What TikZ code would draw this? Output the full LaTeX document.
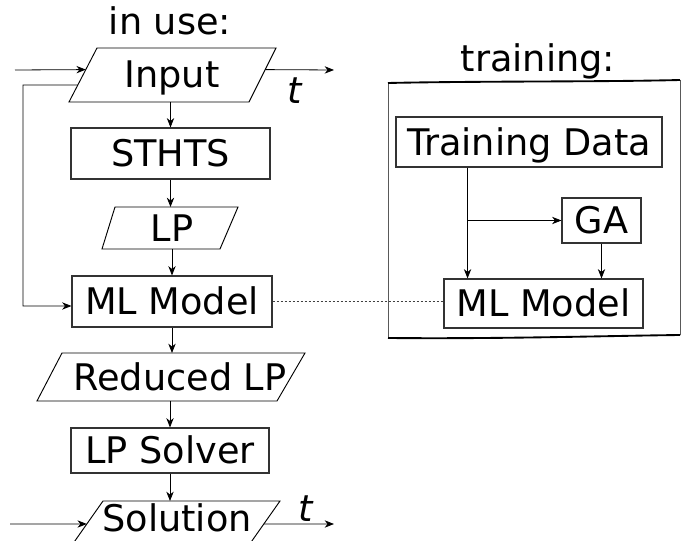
\documentclass[tikz,border=0pt]{standalone}
\usepackage{fontspec}
\setmainfont{DejaVu Sans}
\usetikzlibrary{calc,arrows.meta}
\begin{document}
\begin{tikzpicture}[x=0.75pt,y=-0.75pt,
  every node/.style={font=\fontsize{27.5}{33}\selectfont, inner sep=0pt},
  caps/.style={text height=20pt, text depth=0pt},
  box/.style={caps, draw=black!80, line width=0.85pt, rectangle},
  outline/.style={draw=black, line width=0.7pt, line join=miter},
  conn/.style={-{Stealth[length=7pt,width=5.5pt,inset=2.2pt]}, line width=0.6pt, black},
  link/.style={dash pattern=on 2pt off 1pt, line width=0.6pt, black!75},
  frameside/.style={draw=black!65, line width=0.7pt},
  frameedge/.style={draw=black, line width=1.4pt}
]
\clip (0,0) rectangle (686,541);

% ---------------- in use ----------------
\node[anchor=base] (inuse) at (170,35) {in use:};

% input parallelogram
\coordinate (inTL) at (97,48);  \coordinate (inTR) at (276,48);
\coordinate (inBR) at (249,102); \coordinate (inBL) at (69,102);
\draw[outline] (inTL) -- (inTR) -- (inBR) -- (inBL) -- cycle;
\node[caps] (input) at (172,74) {Input};

\node[box, minimum width=149.25pt, minimum height=38.25pt] (sthts) at (170.5,153.5) {STHTS};

% LP parallelogram
\coordinate (lpTL) at (115,207); \coordinate (lpTR) at (238,207);
\coordinate (lpBR) at (220,249); \coordinate (lpBL) at (102,249);
\draw[outline] (lpTL) -- (lpTR) -- (lpBR) -- (lpBL) -- cycle;
\node[caps] (lp) at (172,228) {LP};

\node[box, minimum width=150pt, minimum height=38.25pt] (mlL) at (172,301.5) {ML Model};

% reduced LP parallelogram
\coordinate (rlTL) at (62,353);  \coordinate (rlTR) at (305,353);
\coordinate (rlBR) at (277,401); \coordinate (rlBL) at (37,401);
\draw[outline] (rlTL) -- (rlTR) -- (rlBR) -- (rlBL) -- cycle;
\node[caps] (rlp) at (180,377) {Reduced LP};

\node[box, minimum width=148.5pt, minimum height=33.75pt] (solver) at (170,450.5) {LP Solver};

% solution parallelogram (runs past the lower edge)
\coordinate (solTL) at (103,501); \coordinate (solTR) at (280,501);
\coordinate (solBR) at (242,555); \coordinate (solBL) at (65,555);
\draw[outline] (solTL) -- (solTR) -- (solBR) -- (solBL) -- cycle;
\node[caps] (sol) at (177,518) {Solution};

% flow connectors
\draw[conn] (sthts.north |- inBL) -- (sthts.north);
\draw[conn] (sthts.south) -- (sthts.south |- lpTL);
\draw[conn] (mlL.north |- lpBL) -- (mlL.north);
\draw[conn] (mlL.south) -- (mlL.south |- rlTL);
\draw[conn] (solver.north |- rlBL) -- (solver.north);
\draw[conn] (solver.south) -- (solver.south |- solTL);

% input in/out
\coordinate (inSrc) at (15,70);
\coordinate (inA) at ($(inBL)!0.6!(inTL)$);
\coordinate (inB) at ($(inBR)!0.6!(inTR)$);
\coordinate (inDst) at (334,70);
\draw[conn] (inSrc) -- (inA);
\draw[conn] (inB) -- (inDst);
\node (t1) at (295,91) {\itshape t};

% feedback from input to model
\coordinate (fb) at ($(inBL)!0.315!(inTL)$);
\coordinate (fbc) at (23,85);
\draw[conn] (fb) -- (fbc) |- ($(mlL.west)+(0,4.5)$);

% solution in/out
\coordinate (solSrc) at (10,524);
\coordinate (solA) at ($(solTL)!0.426!(solBL)$);
\coordinate (solB) at ($(solTR)!0.426!(solBR)$);
\coordinate (solDst) at (334,524);
\draw[conn] (solSrc) -- (solA);
\draw[conn] (solB) -- (solDst);
\node (t2) at (306,509) {\itshape t};

% ---------------- training ----------------
\node[anchor=base] (training) at (538,72) {training:};

\coordinate (frTL) at (388,83);  \coordinate (frTR) at (680,80);
\coordinate (frBR) at (680,335); \coordinate (frBL) at (388,338);
\draw[frameside] (frTL) -- (frBL);
\draw[frameside] (frTR) -- (frBR);
\draw[frameedge] (frTL) .. controls (480,81) and (600,82) .. (frTR);
\draw[frameedge] (frBL) .. controls (500,339) and (600,336) .. (frBR);

\node[box, minimum width=199.5pt, minimum height=37.5pt] (data) at (529,142) {Training Data};
\node[box, minimum width=59.25pt, minimum height=33.75pt] (ga) at (601.5,220.5) {GA};
\node[box, minimum width=149.25pt, minimum height=36.75pt] (mlR) at (543.5,303.5) {ML Model};

\coordinate (tdOut) at ($(data.south west)!0.27!(data.south east)$);
\draw[conn] (tdOut) -- (tdOut |- mlR.north);
\draw[conn] (tdOut |- ga.west) -- (ga.west);
\draw[conn] (ga.south) -- (ga.south |- mlR.north);

% link between the two models
\draw[link] (mlL.east) -- (mlL.east -| mlR.west);
\end{tikzpicture}
\end{document}
